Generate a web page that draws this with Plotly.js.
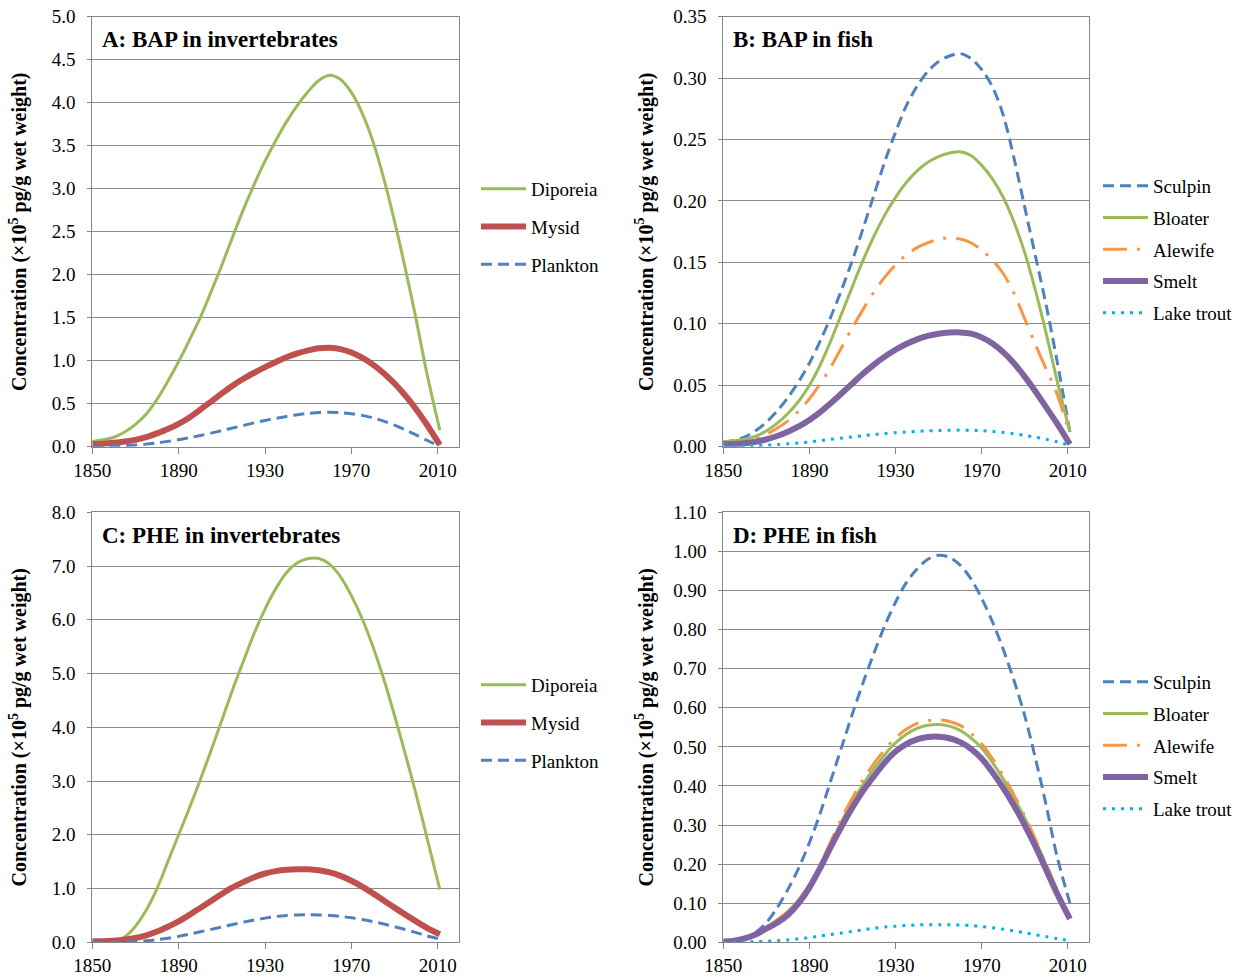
<!DOCTYPE html>
<html>
<head>
<meta charset="utf-8">
<script src="https://cdn.plot.ly/plotly-3.0.1.min.js"></script>
<style>html,body{margin:0;padding:0;background:#fff;}#chart{width:1240px;height:978px;}</style>
</head>
<body>
<div id="chart"></div>
<script>
// ---------- data ----------
const years = [1850,1855,1860,1865,1870,1875,1880,1885,1890,1895,1900,1905,1910,1915,1920,1925,1930,1935,1940,1945,1950,1955,1960,1965,1970,1975,1980,1985,1990,1995,2000,2005,2011];

// Panel A: BAP in invertebrates (x10^5 pg/g wet weight)
const bapDiporeia = [0.06,0.08,0.11,0.17,0.26,0.38,0.55,0.76,0.99,1.24,1.50,1.80,2.11,2.44,2.76,3.05,3.32,3.56,3.78,3.97,4.13,4.26,4.32,4.27,4.12,3.88,3.55,3.12,2.62,2.07,1.48,0.85,0.19];
const bapMysid    = [0.03,0.035,0.045,0.06,0.08,0.11,0.155,0.205,0.265,0.34,0.43,0.525,0.62,0.71,0.79,0.86,0.925,0.985,1.04,1.085,1.12,1.145,1.15,1.135,1.095,1.035,0.955,0.855,0.735,0.595,0.435,0.255,0.02];
const bapPlankton = [0,0.003,0.007,0.012,0.02,0.03,0.045,0.062,0.082,0.105,0.13,0.158,0.187,0.217,0.247,0.277,0.305,0.33,0.352,0.372,0.387,0.397,0.4,0.396,0.384,0.364,0.335,0.297,0.25,0.196,0.138,0.075,0.005];

// Panel B: BAP in fish
const bapSculpin   = [0.004,0.005,0.008,0.013,0.02,0.029,0.04,0.053,0.068,0.086,0.106,0.128,0.152,0.178,0.205,0.232,0.256,0.2775,0.2935,0.3055,0.3135,0.318,0.32,0.316,0.307,0.293,0.27,0.235,0.195,0.155,0.115,0.07,0.012];
const bapBloater   = [0.004,0.0048,0.006,0.0085,0.0128,0.019,0.027,0.037,0.05,0.0665,0.0865,0.1085,0.1305,0.152,0.1715,0.1885,0.203,0.215,0.2245,0.2315,0.2362,0.239,0.24,0.237,0.229,0.218,0.203,0.183,0.158,0.127,0.092,0.054,0.012];
const bapAlewife   = [0.002,0.003,0.004,0.006,0.01,0.015,0.021,0.029,0.039,0.051,0.065,0.081,0.097,0.112,0.126,0.138,0.148,0.156,0.162,0.166,0.169,0.17,0.169,0.166,0.16,0.152,0.141,0.125,0.104,0.083,0.063,0.043,0.01];
const bapSmelt     = [0.002,0.0022,0.0028,0.004,0.006,0.0087,0.0122,0.0165,0.0218,0.0282,0.0356,0.0435,0.0515,0.0595,0.0668,0.0733,0.0789,0.0836,0.0874,0.0902,0.092,0.0929,0.093,0.092,0.089,0.084,0.077,0.068,0.057,0.045,0.032,0.019,0.002];
const bapLakeTrout = [0,0.0003,0.0006,0.0009,0.0013,0.0017,0.0023,0.003,0.0039,0.0049,0.006,0.007,0.008,0.009,0.0099,0.0107,0.0114,0.012,0.0125,0.0129,0.0132,0.0134,0.0135,0.0134,0.013,0.0124,0.0116,0.0105,0.0092,0.0077,0.006,0.004,0.001];

// Panel C: PHE in invertebrates
const pheDiporeia = [0,0,0.02,0.1,0.3,0.6,1.0,1.5,2.0,2.5,3.02,3.57,4.13,4.7,5.23,5.75,6.2,6.58,6.88,7.06,7.14,7.14,7.03,6.8,6.45,6.02,5.5,4.9,4.22,3.5,2.75,1.95,0.98];
const pheMysid    = [0.02,0.02,0.03,0.05,0.08,0.13,0.2,0.29,0.39,0.51,0.64,0.77,0.9,1.02,1.12,1.21,1.28,1.325,1.35,1.36,1.358,1.34,1.30,1.235,1.145,1.035,0.91,0.78,0.645,0.515,0.39,0.27,0.15];
const phePlankton = [0,0,0.003,0.008,0.016,0.03,0.05,0.077,0.11,0.15,0.195,0.24,0.285,0.33,0.375,0.415,0.45,0.48,0.5,0.51,0.515,0.51,0.5,0.482,0.457,0.425,0.385,0.34,0.29,0.237,0.18,0.12,0.06];

// Panel D: PHE in fish
const pheSculpin   = [0.002,0.004,0.01,0.025,0.05,0.088,0.135,0.19,0.255,0.33,0.415,0.5,0.585,0.665,0.74,0.81,0.87,0.92,0.955,0.98,0.99,0.985,0.965,0.93,0.88,0.82,0.75,0.67,0.58,0.47,0.35,0.22,0.1];
const pheBloater   = [0.002,0.004,0.01,0.021,0.038,0.057,0.079,0.108,0.146,0.195,0.252,0.31,0.36,0.405,0.445,0.48,0.51,0.532,0.547,0.555,0.557,0.553,0.542,0.523,0.497,0.46,0.418,0.37,0.318,0.26,0.197,0.133,0.065];
const pheAlewife   = [0.002,0.004,0.01,0.021,0.038,0.057,0.079,0.109,0.148,0.2,0.259,0.318,0.37,0.417,0.458,0.493,0.523,0.545,0.56,0.567,0.569,0.565,0.555,0.535,0.508,0.47,0.427,0.377,0.323,0.263,0.2,0.135,0.065];
const pheSmelt     = [0.002,0.004,0.01,0.02,0.035,0.05,0.07,0.1,0.14,0.19,0.245,0.297,0.345,0.388,0.425,0.46,0.488,0.507,0.519,0.525,0.526,0.522,0.512,0.495,0.47,0.435,0.395,0.35,0.3,0.245,0.185,0.125,0.06];
const pheLakeTrout = [0,0.0005,0.001,0.0015,0.0025,0.004,0.006,0.009,0.012,0.016,0.02,0.024,0.028,0.032,0.036,0.039,0.041,0.043,0.0445,0.045,0.045,0.0448,0.0442,0.0425,0.0402,0.0372,0.0335,0.0292,0.0245,0.0195,0.0145,0.0095,0.004];

const xTickVals = [1850,1890,1930,1970,2010];
const xTickText = ['1850','1890','1930','1970','2010'];
const panelTitles = ['A: BAP in invertebrates','B: BAP in fish','C: PHE in invertebrates','D: PHE in fish'];
const invertNames = ['Diporeia','Mysid','Plankton'];
const fishNames = ['Sculpin','Bloater','Alewife','Smelt','Lake trout'];
const yTitle = 'Concentration (×10<sup>5</sup> pg/g wet weight)';

// ---------- styles ----------
const FONT = 'Liberation Serif, Times New Roman, serif';
const C_GREEN = '#9BBB59', C_RED = '#C0504D', C_BLUE = '#4F81BD', C_ORANGE = '#F79646', C_PURPLE = '#8064A2', C_CYAN = '#00B0F0';
const invertStyles = [
  {color: C_GREEN, width: 3, dash: 'solid'},
  {color: C_RED, width: 6, dash: 'solid'},
  {color: C_BLUE, width: 3, dash: '11px,6px'}
];
const fishStyles = [
  {color: C_BLUE, width: 3, dash: '11px,6px'},
  {color: C_GREEN, width: 3, dash: 'solid'},
  {color: C_ORANGE, width: 3, dash: '24px,10px,3px,10px'},
  {color: C_PURPLE, width: 6, dash: 'solid'},
  {color: C_CYAN, width: 3, dash: '3px,6px'}
];

function mk(y, name, style, xa, ya, leg) {
  return {
    x: years, y: y, name: name, type: 'scatter', mode: 'lines',
    line: {color: style.color, width: style.width, dash: style.dash, shape: 'spline', smoothing: 0.9},
    xaxis: xa, yaxis: ya, legend: leg, legendgroup: leg + name, hoverinfo: 'skip'
  };
}

const traces = [];
[bapDiporeia, bapMysid, bapPlankton].forEach((s,i)=>traces.push(mk(s, invertNames[i], invertStyles[i], 'x', 'y', 'legend')));
[bapSculpin, bapBloater, bapAlewife, bapSmelt, bapLakeTrout].forEach((s,i)=>traces.push(mk(s, fishNames[i], fishStyles[i], 'x2', 'y2', 'legend2')));
[pheDiporeia, pheMysid, phePlankton].forEach((s,i)=>traces.push(mk(s, invertNames[i], invertStyles[i], 'x3', 'y3', 'legend3')));
[pheSculpin, pheBloater, pheAlewife, pheSmelt, pheLakeTrout].forEach((s,i)=>traces.push(mk(s, fishNames[i], fishStyles[i], 'x4', 'y4', 'legend4')));

const W = 1240, H = 978;
const leftDom = [92.3/W, 459.3/W], rightDom = [723.3/W, 1089.3/W];
const topDom = [1 - 446.7/H, 1 - 16.7/H], botDom = [1 - 942.3/H, 1 - 512.3/H];
const LINEC = '#868686', GRIDC = '#8c8c8c';

function xax(dom, anchor) {
  return {
    domain: dom, anchor: anchor, range: [1850, 2020], tickvals: xTickVals, ticktext: xTickText,
    showgrid: false, zeroline: false, showline: true, linecolor: LINEC, linewidth: 1, mirror: true,
    ticks: 'outside', ticklen: 6, tickcolor: LINEC, tickwidth: 1,
    tickfont: {family: FONT, size: 19, color: '#000'}, fixedrange: true
  };
}
function yax(dom, anchor, range, dtick, fmt, standoff) {
  return {
    domain: dom, anchor: anchor, range: range, dtick: dtick, tick0: 0, tickformat: fmt,
    showgrid: true, gridcolor: GRIDC, gridwidth: 1, zeroline: false,
    showline: true, linecolor: LINEC, linewidth: 1, mirror: true,
    ticks: 'outside', ticklen: 4, tickcolor: LINEC, tickwidth: 1, ticklabelstandoff: 8,
    tickfont: {family: FONT, size: 19, color: '#000'}, fixedrange: true,
    title: {text: yTitle, font: {family: FONT, size: 20, color: '#000', weight: 'bold'}, standoff: standoff}
  };
}
function leg(xpx, ycenter, gap) {
  return {
    x: xpx / W, xanchor: 'left', y: 1 - ycenter / H, yanchor: 'middle',
    font: {family: FONT, size: 19, color: '#000'}, bgcolor: 'rgba(0,0,0,0)',
    tracegroupgap: gap, traceorder: 'grouped', itemwidth: 45,
    itemclick: false, itemdoubleclick: false
  };
}

const annotations = [
  ['x','y'],['x2','y2'],['x3','y3'],['x4','y4']
].map((ax, i) => ({
  text: '<b>' + panelTitles[i] + '</b>', xref: ax[0] + ' domain', yref: ax[1] + ' domain',
  x: 0.02, y: 0.98, xanchor: 'left', yanchor: 'top', showarrow: false,
  font: {family: FONT, size: 23, color: '#000'}
}));

const layout = {
  width: W, height: H, margin: {l: 0, r: 0, t: 0, b: 0},
  paper_bgcolor: '#fff', plot_bgcolor: '#fff', showlegend: true,
  xaxis: xax(leftDom, 'y'), yaxis: yax(topDom, 'x', [0, 5], 0.5, '.1f', 19),
  xaxis2: xax(rightDom, 'y2'), yaxis2: yax(topDom, 'x2', [0, 0.35], 0.05, '.2f', 14),
  xaxis3: xax(leftDom, 'y3'), yaxis3: yax(botDom, 'x3', [0, 8], 1, '.1f', 19),
  xaxis4: xax(rightDom, 'y4'), yaxis4: yax(botDom, 'x4', [0, 1.1], 0.1, '.2f', 14),
  legend: leg(476, 227, 10), legend2: leg(1098, 249.5, 4),
  legend3: leg(476, 723, 10), legend4: leg(1098, 745.5, 4),
  annotations: annotations
};

Plotly.newPlot('chart', traces, layout, {staticPlot: true, displayModeBar: false});
</script>
</body>
</html>
